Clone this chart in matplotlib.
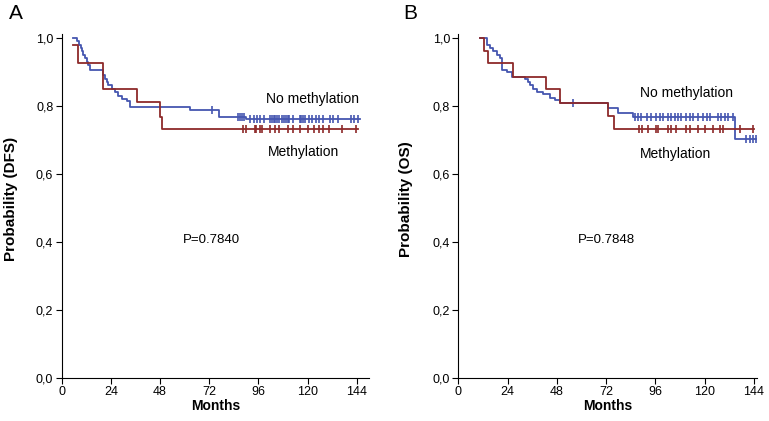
import matplotlib.pyplot as plt
import numpy as np

# --- data (months, survival probability) ---
months_ticks = [0, 24, 48, 72, 96, 120, 144]
prob_ticks = [0.0, 0.2, 0.4, 0.6, 0.8, 1.0]
prob_labels = ["0,0", "0,2", "0,4", "0,6", "0,8", "1,0"]

# A: DFS
dfs_nometh_t = [5.4, 7.3, 8.6, 9.3, 9.9, 10.6, 11.4, 12.2, 13.0, 13.8, 20.3, 21.1, 21.9, 22.7,
                24.4, 26.0, 27.6, 29.3, 31.7, 33.3, 62.6, 77.0, 90.0, 145.5]
dfs_nometh_s = [1.0, 0.99, 0.98, 0.97, 0.96, 0.95, 0.94, 0.93, 0.92, 0.905, 0.89, 0.88, 0.87, 0.86,
                0.85, 0.84, 0.83, 0.82, 0.815, 0.795, 0.787, 0.768, 0.76, 0.76]
dfs_nometh_cens = [73.2, 86, 87, 88, 89, 91.9, 93.8, 95.4, 97, 98.8, 101.6, 102.5, 103.4, 104.3,
                   105, 106, 107.5, 108.7, 109.5, 110.5, 111.2, 113, 116.2, 117, 118, 119, 120.8,
                   122.3, 124, 125.6, 127.6, 130.8, 132.4, 134.8, 141.3, 142.9, 144.5]
dfs_meth_t = [5.4, 8.1, 20.3, 36.6, 48.0, 49.2, 144.5]
dfs_meth_s = [0.98, 0.925, 0.848, 0.81, 0.768, 0.731, 0.731]
dfs_meth_cens = [88.3, 90.2, 94.3, 95.1, 97, 97.7, 101.6, 104, 106.2, 110.5, 113, 116.2, 120.3,
                 123.2, 125.6, 127.6, 130.5, 136.7, 143.6]

# B: OS
os_nometh_t = [10.6, 13.8, 15.4, 17.0, 18.7, 20.3, 21.1, 23.6, 26.0, 32.5, 34.1, 34.9, 36.5, 38.2,
               41.4, 44.6, 47.1, 49.5, 73.0, 77.9, 85.2, 134.6, 145.2]
os_nometh_s = [1.0, 0.98, 0.97, 0.96, 0.95, 0.94, 0.905, 0.90, 0.885, 0.88, 0.87, 0.86, 0.85, 0.84,
               0.835, 0.822, 0.817, 0.807, 0.792, 0.778, 0.768, 0.702, 0.702]
os_nometh_cens = [56, 86, 87.6, 89.2, 91.7, 94.1, 96.5, 98.2, 99.8, 102.2, 103.8, 105.4, 107, 108.7,
                  111.1, 112.8, 114.4, 116.8, 119.2, 120.9, 122.5, 126.5, 128.2, 129.8, 131.4,
                  133.8, 140.3, 141.9, 143.6, 145.2]
os_meth_t = [10.6, 12.5, 14.6, 26.8, 42.7, 49.5, 73.0, 75.7, 143.9]
os_meth_s = [1.0, 0.962, 0.925, 0.885, 0.848, 0.809, 0.771, 0.731, 0.731]
os_meth_cens = [88.1, 89.4, 92.5, 96.2, 97.3, 102.2, 103.8, 106.2, 111.1, 113.1, 116.8, 120.1,
                124.1, 127.4, 128.7, 137.1, 143.6]

BLUE = "#4556b0"
RED = "#8e2a2a"
FONT = ["Liberation Sans", "DejaVu Sans"]
TICKFONT = ["Liberation Sans Narrow", "Liberation Sans", "DejaVu Sans"]

plt.rcParams["font.family"] = FONT


def step_value(t, s, x):
    i = np.searchsorted(np.asarray(t), np.asarray(x), side="right") - 1
    return np.asarray(s)[np.clip(i, 0, len(s) - 1)]


def km(ax, t, s, cens, color):
    ax.plot(t, s, drawstyle="steps-post", color=color, lw=1.3)
    ax.plot(cens, step_value(t, s, cens), ls="none", marker="|", ms=5.5, mew=1.2, color=color)


def style(ax, xmax, ylabel):
    ax.set_xlim(0, xmax)
    ax.set_ylim(0, 1.01)
    for sp in ("top", "right"):
        ax.spines[sp].set_visible(False)
    for sp in ("left", "bottom"):
        ax.spines[sp].set_linewidth(0.8)
    ax.set_xticks(months_ticks)
    ax.set_xticklabels([str(m) for m in months_ticks], family=TICKFONT, fontsize=9)
    ax.set_yticks(prob_ticks)
    ax.set_yticklabels(prob_labels, family=TICKFONT, fontsize=9)
    ax.tick_params(direction="out", length=4, width=0.8, pad=2)
    ax.set_xlabel("Months", fontsize=10, fontweight="bold", labelpad=1)
    ax.set_ylabel(ylabel, fontsize=11, fontweight="bold")


fig = plt.figure(figsize=(7.69, 4.21), dpi=100)
axA = fig.add_axes([0.0802, 0.1028, 0.3996, 0.8157])
axB = fig.add_axes([0.596, 0.1028, 0.3884, 0.8157])

km(axA, dfs_nometh_t, dfs_nometh_s, dfs_nometh_cens, BLUE)
km(axA, dfs_meth_t, dfs_meth_s, dfs_meth_cens, RED)
style(axA, 150, "Probability (DFS)")
axA.yaxis.set_label_coords(-0.142, 0.52)
axA.text(99.7, 0.82, "No methylation", fontsize=10, va="center")
axA.text(100.8, 0.664, "Methylation", fontsize=10, va="center")
axA.text(59, 0.405, "P=0.7840", fontsize=9.5, va="center")

km(axB, os_nometh_t, os_nometh_s, os_nometh_cens, BLUE)
km(axB, os_meth_t, os_meth_s, os_meth_cens, RED)
style(axB, 145.5, "Probability (OS)")
axB.yaxis.set_label_coords(-0.152, 0.52)
axB.text(88.4, 0.837, "No methylation", fontsize=10, va="center")
axB.text(88.4, 0.658, "Methylation", fontsize=10, va="center")
axB.text(58.2, 0.405, "P=0.7848", fontsize=9.5, va="center")

fig.text(0.012, 0.99, "A", fontsize=15, va="top")
fig.text(0.524, 0.99, "B", fontsize=15, va="top")

fig.savefig("out.png", dpi=100)
